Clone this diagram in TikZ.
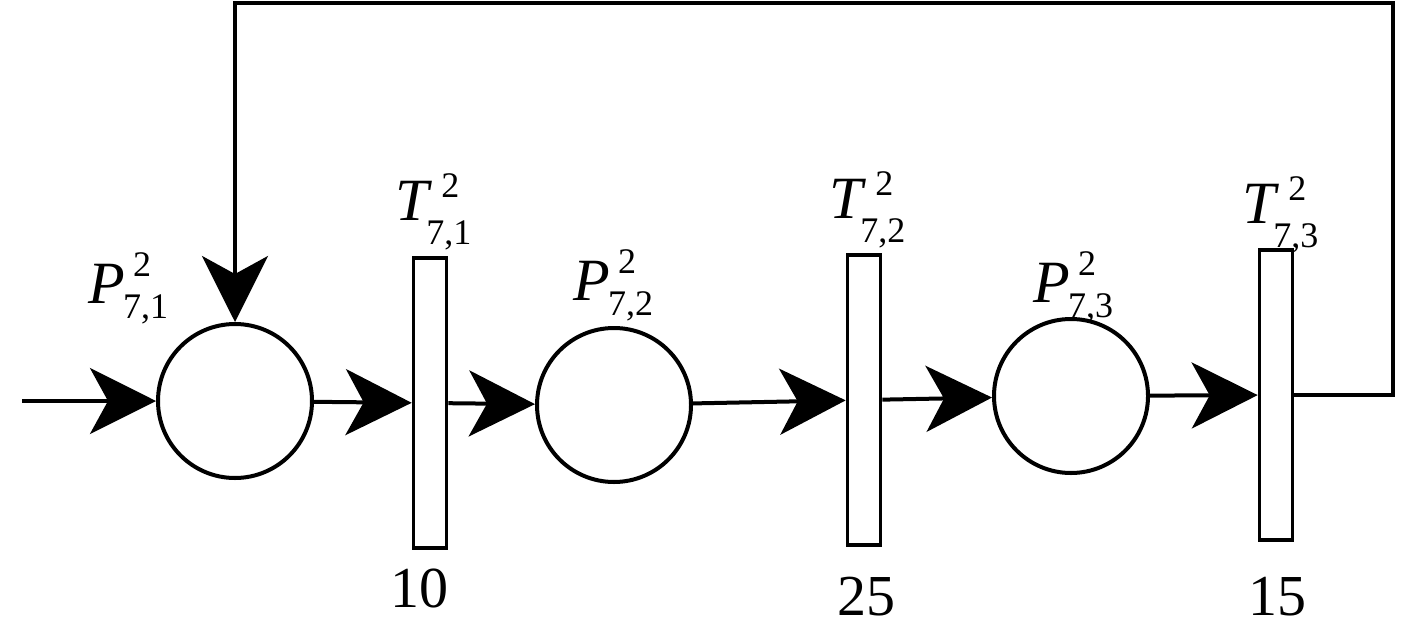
\documentclass[tikz,border=0pt]{standalone}
\usepackage{fontspec}
\setmainfont{Liberation Serif}
\usetikzlibrary{arrows.meta}
% #1 letter, #2 subscript, #3 kern before sub, #4 kern before sup, #5 sup raise, #6 sub lower
\newcommand\petlab[6]{\textit{#1}\kern#3\rlap{\raisebox{#5}{\fontsize{18}{18}\selectfont\kern#4 2}}\raisebox{#6}{\fontsize{18}{18}\selectfont #2}}
\newcommand\plab[1]{\petlab{P}{#1}{-1pt}{5pt}{13.5pt}{-7.5pt}}
\newcommand\tlab[1]{\petlab{T}{#1}{-3pt}{7.5pt}{11.5pt}{-12pt}}
\begin{document}
\begin{tikzpicture}[x=0.5pt,y=-0.5pt,
  place/.style={circle,draw,line width=2pt,minimum size=77pt,inner sep=0pt},
  trans/.style={rectangle,draw,line width=1.8pt,minimum width=16.5pt,minimum height=145pt,inner sep=0pt},
  arr/.style={line width=2pt,-{Stealth[length=33pt,width=33pt,inset=9pt]}},
  lbl/.style={inner sep=0pt,anchor=base west,font=\fontsize{30}{30}\selectfont},
  num/.style={inner sep=0pt,font=\fontsize{29}{29}\selectfont}]
\useasboundingbox (0,0) rectangle (1417,626);
\node[place] (p1) at (235,401) {};
\node[trans] (t1) at (430,403) {};
\node[place] (p2) at (614,405) {};
\node[trans] (t2) at (864,400) {};
\node[place] (p3) at (1071,396) {};
\node[trans] (t3) at (1276,395) {};
\coordinate (in) at (22,401);
\coordinate (c1) at (1393,3);
\draw[arr] (in) -- (p1);
\draw[arr] (p1) -- (t1);
\draw[arr] (t1) -- (p2);
\draw[arr] (p2) -- (t2);
\draw[arr] (t2) -- (p3);
\draw[arr] (p3) -- (t3);
\draw[arr] (t3.east) -| (c1) -| (p1.north);
\node[lbl] (lp1) at (88,303) {\plab{7,1}};
\node[lbl] (lp2) at (573,300) {\plab{7,2}};
\node[lbl] (lp3) at (1033,302) {\plab{7,3}};
\node[lbl] (lt1) at (395,220) {\tlab{7,1}};
\node[lbl] (lt2) at (829,218) {\tlab{7,2}};
\node[lbl] (lt3) at (1242,223) {\tlab{7,3}};
\node[num] (n1) at (419,588) {10};
\node[num] (n2) at (866,597) {25};
\node[num] (n3) at (1277,597) {15};
\end{tikzpicture}
\end{document}
